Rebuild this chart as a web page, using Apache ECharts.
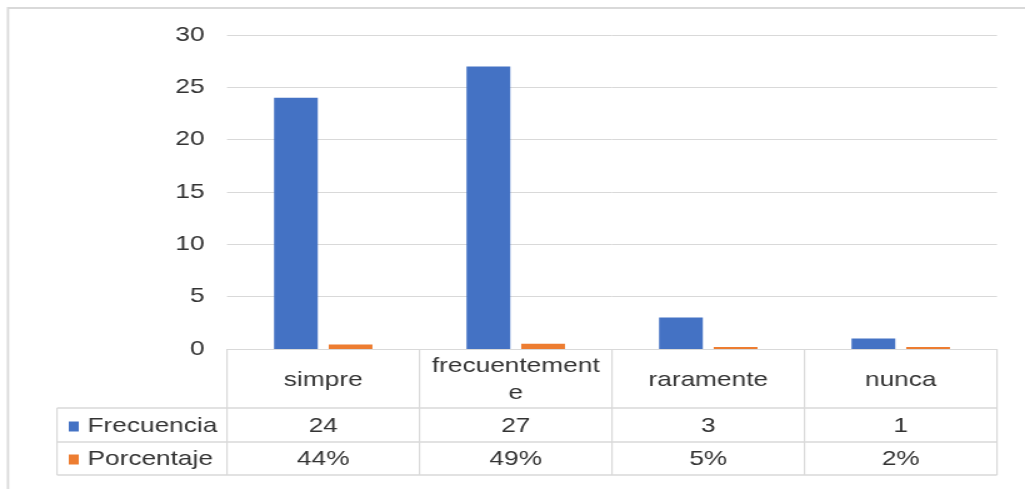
<!DOCTYPE html>
<html>
<head>
<meta charset="utf-8">
<style type="text/css">
	html, body{
		margin: 0;
		padding: 0;
		background: #fff;
		overflow: hidden;
	}
	/* the original picture is stretched sideways, so the chart is too */
	#chart{
		width: 820px;
		height: 489px;
		transform: scaleX(1.25);
		transform-origin: 0 0;
	}
</style>
</head>
<body>
<div id="chart"></div>
<script src="https://cdn.jsdelivr.net/npm/echarts@6/dist/echarts.min.js"></script>
<script>
var categories = ['simpre', 'frecuentemente', 'raramente', 'nunca'];
var frecuencia = [24, 27, 3, 1];
var porcentaje = [0.44, 0.49, 0.05, 0.02];
var porcentajeLabels = ['44%', '49%', '5%', '2%'];
var seriesNames = ['Frecuencia', 'Porcentaje'];
var yMin = 0, yMax = 30, yStep = 5;

var font = 'Liberation Sans, Arial, sans-serif';
var textColor = '#333';
var lineColor = '#d9d9d9';

var myChart = echarts.init(document.getElementById('chart'));

option = {
    animation: false,
    color: ['#4472C4', '#ED7D31'],
    grid: {
        left: 181.6,
        right: 22.4,
        top: 35,
        bottom: 140
    },
    legend: {
        data: seriesNames,
        orient: 'vertical',
        left: 55,
        top: 416,
        padding: 0,
        icon: 'rect',
        itemWidth: 8,
        itemHeight: 10,
        itemGap: 12,
        selectedMode: false,
        textStyle: {
            fontFamily: font,
            fontSize: 21,
            color: textColor,
            padding: [0, 0, 0, 2]
        }
    },
    xAxis: [{
        type: 'category',
        data: categories,
        axisLine: {lineStyle: {color: lineColor, width: 1}},
        axisTick: {show: false},
        axisLabel: {
            interval: 0,
            margin: 31,
            verticalAlign: 'middle',
            width: 140,
            overflow: 'breakAll',
            lineHeight: 27,
            fontFamily: font,
            fontSize: 21,
            color: textColor
        }
    }, {
        type: 'category',
        data: frecuencia.map(String),
        position: 'bottom',
        axisLine: {show: false},
        axisTick: {show: false},
        axisLabel: {
            interval: 0,
            margin: 77,
            verticalAlign: 'middle',
            fontFamily: font,
            fontSize: 21,
            color: textColor
        }
    }, {
        type: 'category',
        data: porcentajeLabels,
        position: 'bottom',
        axisLine: {show: false},
        axisTick: {show: false},
        axisLabel: {
            interval: 0,
            margin: 110,
            verticalAlign: 'middle',
            fontFamily: font,
            fontSize: 21,
            color: textColor
        }
    }],
    yAxis: {
        type: 'value',
        min: yMin,
        max: yMax,
        interval: yStep,
        axisLine: {show: false},
        axisTick: {show: false},
        splitLine: {lineStyle: {color: lineColor, width: 1}},
        axisLabel: {
            margin: 18,
            fontFamily: font,
            fontSize: 21,
            color: textColor
        }
    },
    series: [{
        name: seriesNames[0],
        type: 'bar',
        data: frecuencia,
        barWidth: 35,
        barGap: '25%'
    }, {
        name: seriesNames[1],
        type: 'bar',
        data: porcentaje,
        barWidth: 35,
        barGap: '25%',
        barMinHeight: 2
    }]
};
myChart.setOption(option);

// table lines under the plot, placed from the axes
var c0 = myChart.convertToPixel({xAxisIndex: 0}, 0);
var c1 = myChart.convertToPixel({xAxisIndex: 0}, 1);
var band = c1 - c0;
var tableLeft = c0 - band / 2;
var tableRight = tableLeft + band * categories.length;
var y0 = myChart.convertToPixel({yAxisIndex: 0}, 0);
var y1 = y0 + 59, y2 = y1 + 34, y3 = y2 + 33;
var rowLeft = 45.6;

function hline(x1, x2, y){
    return {type: 'line', silent: true,
        shape: {x1: x1, y1: y, x2: x2, y2: y},
        style: {stroke: lineColor, lineWidth: 1.5}};
}
function vline(x, ya, yb){
    return {type: 'line', silent: true,
        shape: {x1: x, y1: ya, x2: x, y2: yb},
        style: {stroke: lineColor, lineWidth: 1.2}};
}

var lines = [
    // outer frame of the picture
    {type: 'rect', silent: true,
        shape: {x: 6.4, y: 8, width: 900, height: 600},
        style: {fill: null, stroke: lineColor, lineWidth: 1.8}},
    hline(rowLeft, tableRight, y1),
    hline(rowLeft, tableRight, y2),
    hline(rowLeft, tableRight, y3),
    vline(rowLeft, y1, y3)
];
for (var i = 0; i <= categories.length; i++) {
    lines.push(vline(tableLeft + band * i, y0, y3));
}
myChart.setOption({graphic: lines});

window.addEventListener('resize', function () {
    myChart.resize();
});
</script>
</body>
</html>
